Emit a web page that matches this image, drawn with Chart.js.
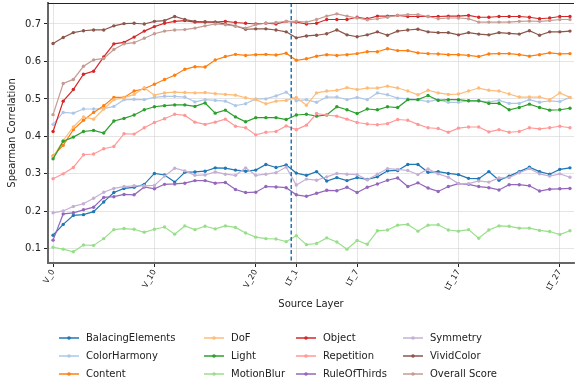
<!DOCTYPE html>
<html>
<head>
<meta charset="utf-8">
<script src="https://cdn.jsdelivr.net/npm/chart.js@4.4.1/dist/chart.umd.min.js"></script>
<style>
  html, body { margin: 0; padding: 0; background: #fff; }
  #wrap { width: 576px; height: 388px; position: relative; }
</style>
</head>
<body>
<div id="wrap"><canvas id="c" width="576" height="388"></canvas></div>
<script>
// Source layers: vision encoder layers followed by language-transformer layers
const visionLayers = ['V_0','V_1','V_2','V_3','V_4','V_5','V_6','V_7','V_8','V_9','V_10','V_11',
  'V_12','V_13','V_14','V_15','V_16','V_17','V_18','V_19','V_20','V_21','V_22','V_23'];
const textLayers = ['LT_1','LT_2','LT_3','LT_4','LT_5','LT_6','LT_7','LT_8','LT_9','LT_10',
  'LT_11','LT_12','LT_13','LT_14','LT_15','LT_16','LT_17','LT_18','LT_19','LT_20',
  'LT_21','LT_22','LT_23','LT_24','LT_25','LT_26','LT_27','LT_28'];
const layers = visionLayers.concat(textLayers);

// Layers that carry a tick label on the x axis
const tickLayers = ['V_0','V_10','V_20','LT_1','LT_7','LT_17','LT_27'];

const seriesNames = ['BalacingElements','ColorHarmony','Content','DoF','Light','MotionBlur',
  'Object','Repetition','RuleOfThirds','Symmetry','VividColor','Overall Score'];

// Spearman correlation per source layer (24 vision layers, then 28 LT layers)
const balacingElements = [
  0.136,0.165,0.189,0.191,0.199,0.225,0.250,0.261,0.264,0.272,0.301,0.297,
  0.278,0.304,0.305,0.307,0.316,0.315,0.310,0.307,0.310,0.325,0.317,0.324,
  0.302,0.296,0.306,0.281,0.290,0.282,0.290,0.285,0.292,0.308,0.309,0.325,0.325,0.304,
  0.306,0.301,0.298,0.288,0.287,0.306,0.283,0.294,0.306,0.318,0.306,0.299,0.312,0.316];
const colorHarmony = [
  0.432,0.464,0.462,0.473,0.473,0.474,0.480,0.498,0.499,0.498,0.504,0.507,
  0.507,0.505,0.492,0.498,0.496,0.494,0.482,0.487,0.500,0.500,0.508,0.518,
  0.495,0.498,0.491,0.505,0.505,0.498,0.504,0.498,0.516,0.511,0.502,0.500,0.498,0.493,
  0.498,0.491,0.491,0.495,0.495,0.492,0.496,0.488,0.488,0.498,0.491,0.495,0.493,0.504];
const content = [
  0.348,0.376,0.418,0.443,0.464,0.482,0.504,0.504,0.521,0.527,0.539,0.552,
  0.563,0.579,0.586,0.585,0.604,0.613,0.619,0.616,0.618,0.619,0.617,0.622,
  0.603,0.607,0.614,0.618,0.616,0.618,0.621,0.626,0.626,0.634,0.629,0.629,0.623,0.621,
  0.620,0.618,0.618,0.616,0.613,0.620,0.621,0.621,0.618,0.614,0.618,0.623,0.620,0.621];
const dof = [
  0.345,0.389,0.425,0.452,0.446,0.473,0.498,0.503,0.512,0.530,0.510,0.516,
  0.518,0.517,0.516,0.517,0.514,0.512,0.510,0.503,0.498,0.487,0.494,0.496,
  0.504,0.483,0.516,0.521,0.523,0.530,0.525,0.529,0.529,0.534,0.529,0.521,0.511,0.523,
  0.516,0.512,0.513,0.521,0.529,0.523,0.521,0.513,0.505,0.505,0.505,0.498,0.516,0.504];
const light = [
  0.340,0.387,0.398,0.413,0.416,0.409,0.441,0.448,0.457,0.471,0.479,0.482,
  0.484,0.484,0.480,0.489,0.462,0.470,0.452,0.439,0.450,0.450,0.450,0.445,
  0.457,0.459,0.454,0.457,0.479,0.471,0.461,0.473,0.471,0.479,0.477,0.498,0.498,0.509,
  0.496,0.498,0.498,0.495,0.495,0.488,0.488,0.471,0.477,0.486,0.477,0.470,0.471,0.475];
const motionBlur = [
  0.104,0.099,0.092,0.110,0.109,0.127,0.151,0.154,0.152,0.144,0.152,0.158,
  0.139,0.161,0.151,0.160,0.153,0.161,0.157,0.142,0.131,0.127,0.126,0.119,
  0.135,0.111,0.114,0.129,0.118,0.099,0.122,0.112,0.148,0.150,0.163,0.165,0.147,0.163,
  0.164,0.150,0.147,0.151,0.128,0.150,0.161,0.160,0.155,0.155,0.149,0.146,0.138,0.148];
const object = [
  0.413,0.494,0.525,0.566,0.574,0.612,0.647,0.651,0.665,0.681,0.693,0.702,
  0.707,0.709,0.705,0.705,0.705,0.707,0.704,0.702,0.700,0.702,0.700,0.707,
  0.705,0.700,0.702,0.712,0.712,0.712,0.718,0.714,0.721,0.721,0.723,0.720,0.720,0.720,
  0.720,0.721,0.721,0.723,0.718,0.718,0.720,0.720,0.720,0.718,0.714,0.716,0.720,0.720];
const repetition = [
  0.287,0.300,0.317,0.351,0.353,0.367,0.373,0.407,0.406,0.423,0.437,0.447,
  0.459,0.456,0.438,0.432,0.438,0.446,0.427,0.423,0.404,0.411,0.413,0.428,
  0.418,0.430,0.461,0.457,0.454,0.446,0.437,0.433,0.431,0.434,0.445,0.443,0.432,0.423,
  0.421,0.411,0.422,0.425,0.425,0.412,0.418,0.411,0.413,0.423,0.420,0.423,0.427,0.423];
const ruleOfThirds = [
  0.123,0.193,0.196,0.204,0.211,0.237,0.239,0.245,0.244,0.265,0.260,0.272,
  0.273,0.275,0.282,0.282,0.275,0.277,0.258,0.250,0.251,0.266,0.265,0.263,
  0.244,0.240,0.248,0.256,0.255,0.264,0.250,0.264,0.273,0.283,0.289,0.266,0.276,0.262,
  0.253,0.266,0.274,0.272,0.266,0.263,0.257,0.271,0.271,0.268,0.254,0.259,0.260,0.261];
const symmetry = [
  0.196,0.201,0.213,0.220,0.235,0.251,0.261,0.266,0.268,0.268,0.269,0.294,
  0.315,0.308,0.296,0.297,0.305,0.299,0.296,0.316,0.296,0.299,0.303,0.318,
  0.270,0.286,0.283,0.292,0.301,0.299,0.298,0.284,0.299,0.314,0.312,0.309,0.298,0.313,
  0.300,0.291,0.274,0.274,0.281,0.278,0.289,0.290,0.303,0.314,0.300,0.294,0.300,0.291];
const vividColor = [
  0.648,0.664,0.677,0.682,0.684,0.684,0.695,0.701,0.702,0.700,0.707,0.709,
  0.720,0.712,0.707,0.706,0.705,0.700,0.695,0.686,0.687,0.687,0.684,0.679,
  0.663,0.668,0.670,0.674,0.684,0.671,0.666,0.671,0.679,0.670,0.681,0.684,0.686,0.679,
  0.677,0.677,0.671,0.677,0.673,0.671,0.677,0.675,0.673,0.682,0.670,0.679,0.679,0.681];
const overallScore = [
  0.458,0.541,0.552,0.587,0.604,0.608,0.632,0.647,0.650,0.662,0.674,0.681,
  0.684,0.685,0.689,0.695,0.700,0.698,0.694,0.689,0.698,0.702,0.704,0.707,
  0.707,0.705,0.712,0.721,0.727,0.721,0.716,0.711,0.714,0.718,0.723,0.725,0.725,0.720,
  0.714,0.716,0.716,0.714,0.705,0.705,0.705,0.705,0.707,0.708,0.707,0.709,0.712,0.712];

const yTicks = [0.1, 0.2, 0.3, 0.4, 0.5, 0.6, 0.7];

const seriesValues = [balacingElements, colorHarmony, content, dof, light, motionBlur,
  object, repetition, ruleOfThirds, symmetry, vividColor, overallScore];
const palette = ['#1f77b4','#aec7e8','#ff7f0e','#ffbb78','#2ca02c','#98df8a',
  '#d62728','#ff9896','#9467bd','#c5b0d5','#8c564b','#c49c94'];

const FONT = "'DejaVu Sans', 'Liberation Sans', sans-serif";
const boundaryIndex = visionLayers.length - 0.5;

const datasets = seriesNames.map((name, i) => ({
  label: name,
  data: seriesValues[i].map((v, k) => ({ x: k, y: v })),
  borderColor: palette[i],
  backgroundColor: palette[i],
  borderWidth: 1.2,
  pointRadius: 1.7,
  pointBorderWidth: 0,
  pointHoverRadius: 2,
  tension: 0,
  order: seriesNames.length - i
}));

// Dashed separator between the vision and LT layers, plus the top frame line
const separatorPlugin = {
  id: 'separator',
  afterDatasetsDraw(chart) {
    const { ctx, chartArea, scales } = chart;
    const x = scales.x.getPixelForValue(boundaryIndex);
    ctx.save();
    ctx.strokeStyle = '#1f77b4';
    ctx.lineWidth = 1.5;
    ctx.setLineDash([4, 2.5]);
    ctx.beginPath();
    ctx.moveTo(x, chartArea.top);
    ctx.lineTo(x, chartArea.bottom);
    ctx.stroke();
    ctx.setLineDash([]);
    ctx.strokeStyle = '#222';
    ctx.lineWidth = 1;
    ctx.beginPath();
    ctx.moveTo(chartArea.left, chartArea.top + 0.5);
    ctx.lineTo(chartArea.right, chartArea.top + 0.5);
    ctx.stroke();
    ctx.restore();
  }
};

// Legend laid out in four columns, filled column by column
const legendPlugin = {
  id: 'columnLegend',
  afterDraw(chart) {
    const { ctx } = chart;
    const lineX = [59, 204, 296, 403];
    const rowY = [338, 356, 374];
    const handleLen = 20;
    ctx.save();
    ctx.font = '10px ' + FONT;
    ctx.textBaseline = 'middle';
    ctx.textAlign = 'left';
    chart.data.datasets.forEach((ds, i) => {
      const col = Math.floor(i / 3), row = i % 3;
      const x0 = lineX[col], y = rowY[row];
      ctx.strokeStyle = ds.borderColor;
      ctx.lineWidth = 1.5;
      ctx.beginPath();
      ctx.moveTo(x0, y);
      ctx.lineTo(x0 + handleLen, y);
      ctx.stroke();
      ctx.fillStyle = ds.borderColor;
      ctx.beginPath();
      ctx.arc(x0 + handleLen / 2, y, 1.8, 0, Math.PI * 2);
      ctx.fill();
      ctx.fillStyle = '#222';
      ctx.fillText(ds.label, x0 + handleLen + 7, y + 0.5);
    });
    ctx.restore();
  }
};

new Chart(document.getElementById('c'), {
  type: 'line',
  data: { datasets },
  options: {
    responsive: false,
    animation: false,
    events: [],
    layout: { padding: { left: 0, right: 0, top: 3, bottom: 75 } },
    plugins: {
      legend: { display: false },
      tooltip: { enabled: false }
    },
    scales: {
      x: {
        type: 'linear',
        min: -0.5,
        max: 51.4,
        afterFit(scale) {
          scale.height = 50;
          scale.paddingLeft = 0;
          scale.paddingRight = 0;
        },
        afterBuildTicks(scale) {
          scale.ticks = tickLayers.map(l => ({ value: layers.indexOf(l) }));
        },
        ticks: {
          autoSkip: false,
          minRotation: 60,
          maxRotation: 60,
          padding: 1,
          color: '#222',
          font: { family: FONT, size: 8 },
          callback: (v) => layers[v]
        },
        grid: {
          color: 'rgba(200,200,200,0.6)',
          lineWidth: 0.8,
          borderDash: [3, 3],
          tickColor: '#222',
          tickLength: 4,
          tickWidth: 1,
          tickBorderDash: []
        },
        border: { display: true, color: '#666', width: 2 },
        title: {
          display: true,
          text: 'Source Layer',
          color: '#222',
          font: { family: FONT, size: 10 },
          padding: { top: 0, bottom: 3 }
        }
      },
      y: {
        min: 0.062,
        max: 0.756,
        afterFit(scale) {
          scale.width = 48;
          scale.paddingTop = 0;
          scale.paddingBottom = 0;
        },
        afterBuildTicks(scale) {
          scale.ticks = yTicks.map(v => ({ value: v }));
        },
        ticks: {
          color: '#222',
          padding: 3,
          font: { family: FONT, size: 10 },
          callback: (v) => v.toFixed(1)
        },
        grid: {
          color: 'rgba(200,200,200,0.6)',
          lineWidth: 0.8,
          borderDash: [3, 3],
          tickColor: '#222',
          tickLength: 4,
          tickWidth: 1,
          tickBorderDash: []
        },
        border: { display: true, color: '#666', width: 2 },
        title: {
          display: true,
          text: 'Spearman Correlation',
          color: '#222',
          font: { family: FONT, size: 10 },
          padding: { top: 6, bottom: 0 }
        }
      }
    }
  },
  plugins: [separatorPlugin, legendPlugin]
});
</script>
</body>
</html>
